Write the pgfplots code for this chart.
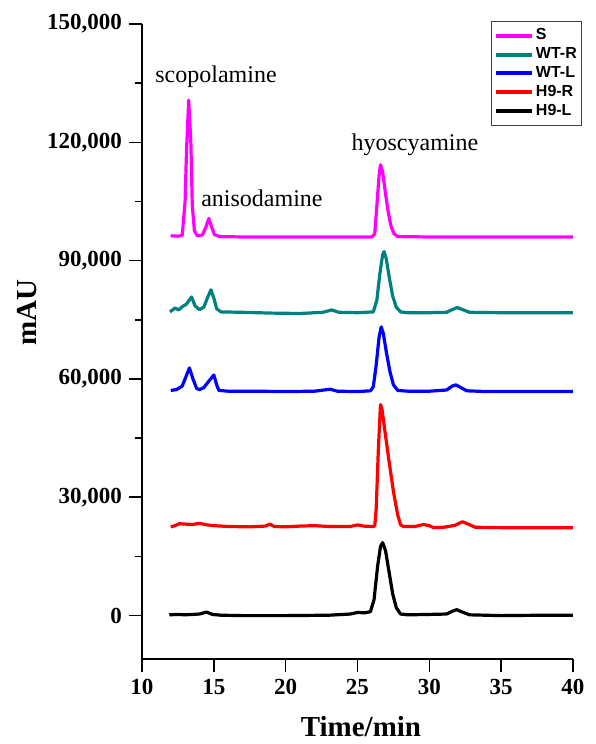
\documentclass[border=0pt]{standalone}
\usepackage{fontspec}
\setmainfont{Liberation Serif}
\setsansfont{Liberation Sans}
\usepackage{pgfplots}
\pgfplotsset{compat=1.18}

\definecolor{cS}{RGB}{255,0,255}
\definecolor{cWTR}{RGB}{0,128,128}
\definecolor{cWTL}{RGB}{0,0,255}
\definecolor{cHR}{RGB}{255,0,0}
\definecolor{cHL}{RGB}{0,0,0}

\begin{document}
\begin{tikzpicture}
\begin{axis}[
  scale only axis,
  width=215.5pt, height=317.5pt,
  xmin=10, xmax=40, ymin=-11000, ymax=150000,
  axis x line=bottom, axis y line=left,
  axis line style={-, line width=0.8pt, black},
  xtick={10,15,...,40},
  ytick={0,30000,60000,90000,120000,150000},
  minor y tick num=1,
  tick align=outside,
  major tick length=6.5pt, minor tick length=3.5pt,
  tick style={line width=0.8pt, black},
  scaled y ticks=false,
  ticklabel style={font=\fontsize{11.5}{12}\selectfont\bfseries},
  /pgf/number format/.cd, fixed, precision=0, 1000 sep={,}, assume math mode=true,
  /pgfplots/.cd,
  xlabel={Time/min}, ylabel={mAU},
  label style={font=\fontsize{14.5}{16}\selectfont\bfseries},
  xlabel style={at={(axis description cs:0.508,-0.106)}, anchor=center},
  ylabel style={at={(axis description cs:-0.2668,0.546)}, anchor=center},
  legend style={at={(axis description cs:1.021,1.0047)}, anchor=north east,
    draw=black!75, line width=0.6pt, font=\fontsize{8}{9}\selectfont\sffamily\bfseries,
    inner xsep=1.5pt, inner ysep=1.5pt, row sep=-1.6pt,
    nodes={inner xsep=0.8pt}},
  legend cell align=left,
  legend image code/.code={\draw[#1, line width=2pt] (0pt,0pt) -- (18pt,0pt);},
  every axis plot/.append style={line width=1.6pt, line join=round},
  clip=false,
]
\coordinate (bl) at (rel axis cs:0,0);
\coordinate (tr) at (rel axis cs:1,1);

% S (standards)
\addplot[cS] coordinates {
(12.0,96300)(12.5,96200)(12.8,96400)(13.0,105000)(13.1,118000)(13.25,130700)
(13.4,120000)(13.5,104000)(13.65,97500)(13.85,96300)(14.2,96500)(14.45,98500)
(14.65,100700)(14.85,98500)(15.05,96600)(15.4,96100)(17,96000)(20,96000)
(23,96000)(25,96000)(26.0,96000)(26.2,96800)(26.35,104000)(26.5,111500)
(26.6,114300)(26.75,112500)(26.95,107000)(27.15,102000)(27.35,98500)
(27.55,96800)(27.8,96100)(30,96000)(33,96000)(36,96000)(38,96000)(40,96000)
};
% WT-R
\addplot[cWTR] coordinates {
(11.95,77000)(12.3,78000)(12.55,77500)(12.8,78300)(13.1,79000)(13.45,80800)
(13.7,78500)(14.0,77600)(14.3,78200)(14.55,80500)(14.8,82600)(15.0,80500)
(15.2,77800)(15.5,77000)(17,76900)(19,76700)(21,76600)(22.6,76900)(23.2,77500)
(23.7,76900)(25,76800)(26.1,77000)(26.35,80000)(26.55,86500)(26.75,91500)
(26.85,92300)(27.0,90500)(27.2,86000)(27.45,81000)(27.7,78200)(28.0,77000)
(28.5,76800)(30,76800)(31.2,76900)(31.6,77600)(31.95,78100)(32.3,77600)
(32.8,76900)(35,76800)(38,76800)(40,76800)
};
% WT-L
\addplot[cWTL] coordinates {
(12.0,57100)(12.4,57300)(12.8,58200)(13.05,60500)(13.3,62800)(13.55,60000)
(13.8,57600)(14.0,57300)(14.3,57800)(14.6,59200)(15.0,61000)(15.2,58500)
(15.35,57100)(16,56900)(18,56900)(20,56800)(22,56900)(23.1,57400)(23.6,56900)
(25,56800)(25.9,57000)(26.1,58000)(26.3,63500)(26.5,70500)(26.65,73200)
(26.8,71500)(27.0,67000)(27.25,62000)(27.5,58500)(27.8,57100)(28.5,56900)
(30,56900)(31.2,57200)(31.6,58200)(31.85,58500)(32.2,57800)(32.6,57000)
(34,56800)(37,56800)(40,56800)
};
% H9-R
\addplot[cHR] coordinates {
(12.0,22500)(12.3,22800)(12.6,23300)(13.0,23200)(13.5,23100)(14.0,23400)
(14.5,23000)(15.0,22800)(16,22600)(17.5,22500)(18.6,22700)(18.9,23200)
(19.2,22600)(20,22500)(21,22700)(22,22800)(23,22600)(24.5,22600)(25.0,23000)
(25.4,22700)(26.0,22600)(26.2,22700)(26.3,27000)(26.45,42000)(26.6,53500)
(26.7,52500)(26.9,47000)(27.2,39000)(27.5,31500)(27.8,25500)(28.0,23000)
(28.2,22600)(29,22600)(29.6,23100)(30.0,22800)(30.3,22300)(31,22400)
(31.8,22900)(32.3,23800)(32.7,23200)(33.2,22400)(35,22300)(37,22300)(40,22300)
};
% H9-L
\addplot[cHL] coordinates {
(11.9,200)(12.5,300)(13,200)(14,400)(14.5,900)(14.9,300)(15.5,100)(17,0)
(20,0)(23,100)(24.5,400)(25.0,800)(25.5,700)(25.9,1000)(26.15,4000)
(26.4,12500)(26.6,17500)(26.75,18500)(26.95,16500)(27.2,11000)(27.45,5500)
(27.7,2000)(28.0,400)(28.5,200)(30,300)(31.2,400)(31.6,1100)(31.9,1500)
(32.3,900)(32.8,200)(35,0)(38,100)(40,100)
};
\legend{S, WT-R, WT-L, H9-R, H9-L}

\node[font=\fontsize{12}{14}\selectfont] at (axis cs:15.15,136600) {scopolamine};
\node[font=\fontsize{12}{14}\selectfont] at (axis cs:18.35,105900) {anisodamine};
\node[font=\fontsize{12}{14}\selectfont] at (axis cs:29.0,119300) {hyoscyamine};
\end{axis}
\pgfresetboundingbox
\path[use as bounding box] ([xshift=-71pt,yshift=-42.5pt]bl) rectangle ([xshift=11.5pt,yshift=12pt]tr);
\end{tikzpicture}
\end{document}
